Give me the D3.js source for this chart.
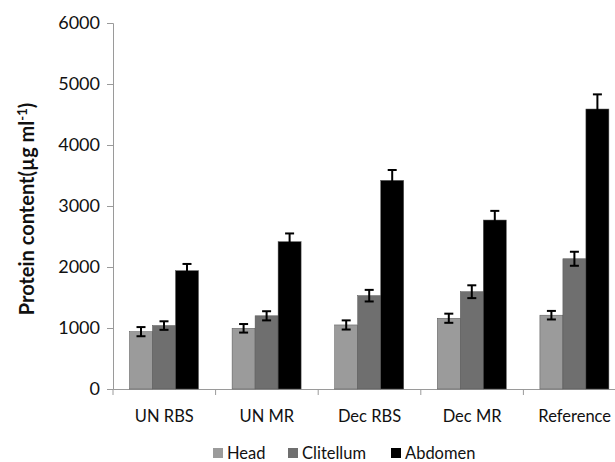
<!DOCTYPE html>
<html>
<head>
<meta charset="utf-8">
<script src="https://cdn.jsdelivr.net/npm/d3@7"></script>
<style>
  body { margin: 0; background: #fff; }
  text { font-family: Lato, "Open Sans", sans-serif; fill: #111; }
</style>
</head>
<body>
<div id="chart"></div>
<script>
// Chart data
const categories = ["UN RBS", "UN MR", "Dec RBS", "Dec MR", "Reference"];
const series = ["Head", "Clitellum", "Abdomen"];
const head = [940, 995, 1050, 1160, 1210];
const clitellum = [1040, 1200, 1530, 1595, 2135];
const abdomen = [1940, 2415, 3420, 2770, 4590];
const headErr = [75, 70, 75, 75, 70];
const clitellumErr = [70, 75, 95, 105, 115];
const abdomenErr = [110, 135, 170, 150, 240];
const yTicks = [0, 1000, 2000, 3000, 4000, 5000, 6000];
const colors = ["#9b9b9b", "#6f6f6f", "#000000"];

const width = 615;
const height = 462;
const margin = { top: 23, right: -11, bottom: 73, left: 113 };

const svg = d3.select("#chart").append("svg")
    .attr("width", width)
    .attr("height", height);

const x0 = d3.scaleBand()
    .domain(categories)
    .range([margin.left, width - margin.right]);

const x1 = d3.scaleBand()
    .domain(series)
    .range([16.5, 85.5]);

const y = d3.scaleLinear()
    .domain([0, 6000])
    .range([height - margin.bottom, margin.top]);

// Build rows
const values = [head, clitellum, abdomen];
const errs = [headErr, clitellumErr, abdomenErr];
const rows = [];
categories.forEach((c, i) => {
    series.forEach((s, j) => {
        rows.push({ cat: c, ser: s, value: values[j][i], err: errs[j][i], color: colors[j] });
    });
});

// Y axis
const yAxis = svg.append("g")
    .attr("transform", `translate(${margin.left},0)`)
    .call(d3.axisLeft(y).tickValues(yTicks).tickSize(6).tickPadding(7).tickFormat(d3.format("d")));
yAxis.select(".domain").attr("stroke", "#9a9a9a");
yAxis.selectAll(".tick line").attr("stroke", "#9a9a9a");
yAxis.selectAll(".tick text").style("font-size", "18px").attr("fill", "#111");

// X axis
const xAxis = svg.append("g")
    .attr("transform", `translate(0,${y(0)})`)
    .call(d3.axisBottom(x0).tickSize(0).tickPadding(21));
xAxis.select(".domain").attr("stroke", "#9a9a9a");
xAxis.selectAll(".tick text").style("font-size", "16.5px").attr("fill", "#111");
// boundary ticks between groups
svg.append("g").selectAll("line")
    .data(categories)
    .enter()
    .append("line")
    .attr("x1", d => x0(d))
    .attr("x2", d => x0(d))
    .attr("y1", y(0))
    .attr("y2", y(0) + 6)
    .attr("stroke", "#9a9a9a");

// Bars
const bars = svg.append("g");
bars.selectAll("rect")
    .data(rows)
    .enter()
    .append("rect")
    .attr("x", d => x0(d.cat) + x1(d.ser))
    .attr("y", d => y(d.value))
    .attr("width", x1.bandwidth())
    .attr("height", d => y(0) - y(d.value))
    .attr("fill", d => d.color)
    .attr("stroke", "#555")
    .attr("stroke-width", 0.5);

// Error bars
const eb = svg.append("g").attr("stroke", "#000").attr("stroke-width", 2);
rows.forEach(d => {
    const cx = x0(d.cat) + x1(d.ser) + x1.bandwidth() / 2;
    eb.append("line")
        .attr("x1", cx).attr("x2", cx)
        .attr("y1", y(d.value - d.err)).attr("y2", y(d.value + d.err));
    [d.value - d.err, d.value + d.err].forEach(v => {
        eb.append("line")
            .attr("x1", cx - 4.5).attr("x2", cx + 4.5)
            .attr("y1", y(v)).attr("y2", y(v));
    });
});

// Y title
svg.append("text")
    .attr("transform", `translate(34,209) rotate(-90)`)
    .attr("text-anchor", "middle")
    .style("font-size", "20px")
    .style("font-weight", "bold")
    .text("Protein content(µg ml")
    .append("tspan")
    .attr("dy", -7)
    .style("font-size", "13px")
    .text("-1")
    .select(function () { return this.parentNode; })
    .append("tspan")
    .attr("dy", 7)
    .text(")");

// Legend
const legendX = [213, 288, 391];
const legend = svg.append("g");
series.forEach((s, i) => {
    legend.append("rect")
        .attr("x", legendX[i])
        .attr("y", 448)
        .attr("width", 10)
        .attr("height", 10)
        .attr("fill", colors[i]);
    legend.append("text")
        .attr("x", legendX[i] + 14)
        .attr("y", 459)
        .style("font-size", "16.5px")
        .text(s);
});
</script>
</body>
</html>
